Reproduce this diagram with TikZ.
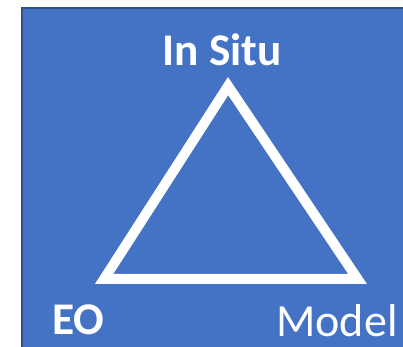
\documentclass[tikz,border=0pt]{standalone}
\usepackage{fontspec}
\setmainfont{Carlito}
\usetikzlibrary{positioning}
\definecolor{slide}{RGB}{68,114,196}
\definecolor{slideedge}{RGB}{47,82,143}
\tikzset{
  panel/.style={fill=slide,draw=slideedge,line width=0.04cm},
  tri/.style={draw=white,line width=0.2cm,miter limit=10},
  vlabel/.style={text=white,inner sep=0pt,anchor=base,font=\bfseries\fontsize{25.8}{30}\selectfont},
  vlabel plain/.style={vlabel,font=\fontsize{26.2}{31}\selectfont},
}
\begin{document}
\begin{tikzpicture}[x=0.02cm,y=-0.02cm]
  \useasboundingbox (0,0) rectangle (403,347);
  \fill[white] (0,0) rectangle (403,347);
  \draw[panel] (22,8) rectangle (412,356);
  % triangle corners (centre of the white stroke)
  \coordinate (top) at (228.1,86.1);
  \coordinate (left) at (104.1,279);
  \coordinate (right) at (357.6,279);
  \draw[tri] (top) -- (left) -- (right) -- cycle;
  \node[vlabel] (insitu) at (222,66) {In Situ};
  \node[vlabel] (eo) at (78,335) {EO};
  \node[vlabel plain] (model) at (337,337) {Model};
\end{tikzpicture}
\end{document}
